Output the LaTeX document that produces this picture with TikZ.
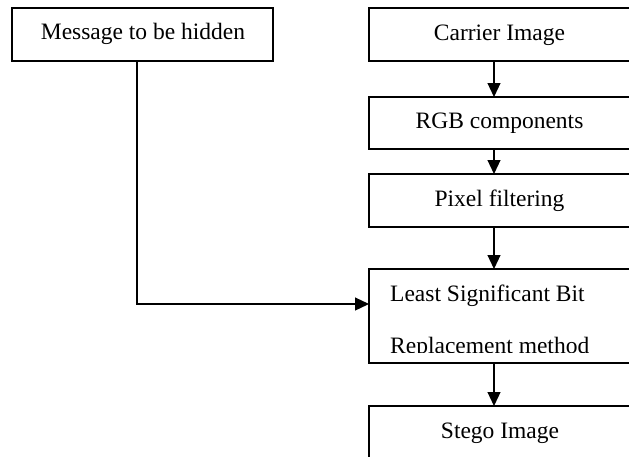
\documentclass[tikz,border=0pt]{standalone}
\usepackage{fontspec}
\setmainfont{Liberation Serif}
\usetikzlibrary{arrows.meta}
\begin{document}
\begin{tikzpicture}[x=1pt,y=-1pt,
  box/.style={draw, line width=1.2pt, inner sep=0pt, outer sep=0pt},
  txt/.style={font=\fontsize{23.5}{28}\selectfont, inner sep=0pt},
  arr/.style={line width=1.2pt, -{Triangle[length=14pt,width=13pt]}}]
\useasboundingbox (0,0) rectangle (629,456);
\clip (0,0) rectangle (629,456);
\node[box, anchor=north west, minimum width=261pt, minimum height=53pt] (msg) at (12,8) {};
\node[box, anchor=north west, minimum width=261pt, minimum height=53pt] (car) at (369,8) {};
\node[box, anchor=north west, minimum width=261pt, minimum height=52pt] (rgb) at (369,97) {};
\node[box, anchor=north west, minimum width=261pt, minimum height=53pt] (pix) at (369,174) {};
\node[box, anchor=north west, minimum width=261pt, minimum height=94pt] (lsb) at (369,269) {};
\node[box, anchor=north west, minimum width=261pt, minimum height=60pt] (ste) at (369,406) {};
\node[txt, anchor=base] (tmsg) at (143,39.5) {Message to be hidden};
\node[txt, anchor=base] (tcar) at (499.5,40.5) {Carrier Image};
\node[txt, anchor=base] (trgb) at (499.5,128) {RGB components};
\node[txt, anchor=base] (tpix) at (499.5,206.7) {Pixel filtering};
\node[txt, anchor=base west] (tlsba) at (390,301.7) {Least Significant Bit};
\begin{scope}
\clip (380,320) rectangle (620,352);
\node[txt, anchor=base west] (tlsbb) at (390,353) {Replacement method};
\end{scope}
\node[txt, anchor=base] (tste) at (500,438.3) {Stego Image};
\coordinate (ax) at (494,0);
\coordinate (lx) at (137,0);
\coordinate (ly) at (0,304);
\draw[arr] (car.south -| ax) -- (rgb.north -| ax);
\draw[arr] (rgb.south -| ax) -- (pix.north -| ax);
\draw[arr] (pix.south -| ax) -- (lsb.north -| ax);
\draw[arr] (lsb.south -| ax) -- (ste.north -| ax);
\draw[arr] (msg.south -| lx) |- (ly -| lsb.west);
\end{tikzpicture}
\end{document}
